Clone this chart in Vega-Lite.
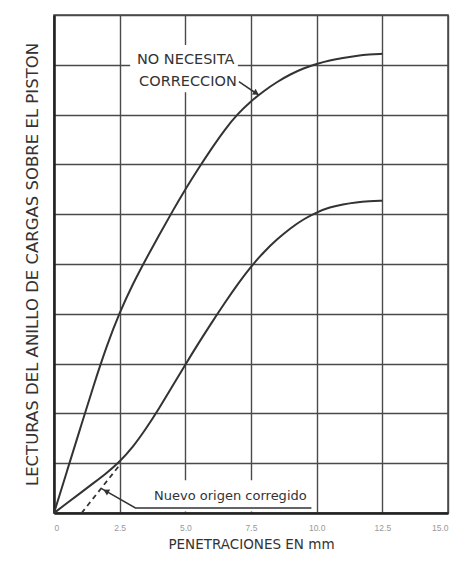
{
  "$schema": "https://vega.github.io/schema/vega-lite/v6.json",
  "width": 394,
  "height": 498,
  "padding": {"left": 24, "top": 15, "right": 20, "bottom": 10},
  "background": "white",
  "config": {
    "view": {"stroke": "#444", "strokeWidth": 1.5},
    "font": "Liberation Sans"
  },
  "datasets": {
    "curves": [
      {"serie": "A", "x": 0, "y": 0}, {"serie": "A", "x": 0.5, "y": 0.85}, {"serie": "A", "x": 1, "y": 1.7},
      {"serie": "A", "x": 1.5, "y": 2.55}, {"serie": "A", "x": 2, "y": 3.35}, {"serie": "A", "x": 2.5, "y": 4.03},
      {"serie": "A", "x": 3, "y": 4.6}, {"serie": "A", "x": 3.5, "y": 5.1}, {"serie": "A", "x": 4, "y": 5.58},
      {"serie": "A", "x": 4.5, "y": 6.05}, {"serie": "A", "x": 5, "y": 6.5}, {"serie": "A", "x": 5.5, "y": 6.92},
      {"serie": "A", "x": 6, "y": 7.32}, {"serie": "A", "x": 6.5, "y": 7.7}, {"serie": "A", "x": 7, "y": 8.02},
      {"serie": "A", "x": 7.5, "y": 8.27}, {"serie": "A", "x": 8, "y": 8.48}, {"serie": "A", "x": 8.5, "y": 8.66},
      {"serie": "A", "x": 9, "y": 8.81}, {"serie": "A", "x": 9.5, "y": 8.93}, {"serie": "A", "x": 10, "y": 9.02},
      {"serie": "A", "x": 10.5, "y": 9.09}, {"serie": "A", "x": 11, "y": 9.14}, {"serie": "A", "x": 11.5, "y": 9.18},
      {"serie": "A", "x": 12, "y": 9.21}, {"serie": "A", "x": 12.5, "y": 9.22},
      {"serie": "B", "x": 0, "y": 0}, {"serie": "B", "x": 0.5, "y": 0.2}, {"serie": "B", "x": 1, "y": 0.4},
      {"serie": "B", "x": 1.5, "y": 0.6}, {"serie": "B", "x": 2, "y": 0.8}, {"serie": "B", "x": 2.5, "y": 1.03},
      {"serie": "B", "x": 3, "y": 1.32}, {"serie": "B", "x": 3.5, "y": 1.69}, {"serie": "B", "x": 4, "y": 2.1},
      {"serie": "B", "x": 4.5, "y": 2.54}, {"serie": "B", "x": 5, "y": 2.98}, {"serie": "B", "x": 5.5, "y": 3.41},
      {"serie": "B", "x": 6, "y": 3.82}, {"serie": "B", "x": 6.5, "y": 4.22}, {"serie": "B", "x": 7, "y": 4.6},
      {"serie": "B", "x": 7.5, "y": 4.95}, {"serie": "B", "x": 8, "y": 5.25}, {"serie": "B", "x": 8.5, "y": 5.5},
      {"serie": "B", "x": 9, "y": 5.72}, {"serie": "B", "x": 9.5, "y": 5.9}, {"serie": "B", "x": 10, "y": 6.04},
      {"serie": "B", "x": 10.5, "y": 6.14}, {"serie": "B", "x": 11, "y": 6.2}, {"serie": "B", "x": 11.5, "y": 6.24},
      {"serie": "B", "x": 12, "y": 6.26}, {"serie": "B", "x": 12.5, "y": 6.27}
    ],
    "dashed": [
      {"x": 1.05, "y": 0}, {"x": 2.45, "y": 0.93}
    ],
    "leaders": [
      {"grp": "L1", "ord": 1, "x": 7.04, "y": 8.66}, {"grp": "L1", "ord": 2, "x": 7.8, "y": 8.39},
      {"grp": "L2", "ord": 1, "x": 9.8, "y": 0.1}, {"grp": "L2", "ord": 2, "x": 3.1, "y": 0.1},
      {"grp": "L2", "ord": 3, "x": 1.78, "y": 0.5}
    ],
    "head1": [{"x": 7.7, "y": 8.43}],
    "head2": [{"x": 1.98, "y": 0.44}],
    "masks": [
      {"x": 2.9, "x2": 7.0, "y": 8.45, "y2": 9.4},
      {"x": 3.5, "x2": 9.75, "y": 0.03, "y2": 0.66}
    ],
    "labels": [
      {"x": 3.16, "y": 9.1, "text": "NO NECESITA"},
      {"x": 3.24, "y": 8.65, "text": "CORRECCION"}
    ],
    "labels2": [
      {"x": 3.81, "y": 0.34, "text": "Nuevo origen corregido"}
    ]
  },
  "layer": [
    {
      "data": {"name": "masks"},
      "mark": {"type": "rect", "fill": "white"},
      "encoding": {
        "x": {"field": "x", "type": "quantitative",
          "scale": {"domain": [0, 15], "nice": false},
          "axis": {
            "values": [0, 2.5, 5, 7.5, 10, 12.5, 15],
            "grid": true, "gridColor": "#4a4a4a", "gridWidth": 1.4, "gridOpacity": 1,
            "ticks": false,
            "domain": true, "domainColor": "#222", "domainWidth": 2.5,
            "labelExpr": "datum.value == 0 ? '0' : format(datum.value, '.1f')",
            "labelColor": "#999", "labelFontSize": 8.5, "labelPadding": 10,
            "title": "PENETRACIONES EN mm",
            "titleFontSize": 13.5, "titleFontWeight": "normal", "titleColor": "#333",
            "titlePadding": 6, "titleFont": "DejaVu Sans"
          }
        },
        "x2": {"field": "x2"},
        "y": {"field": "y", "type": "quantitative",
          "scale": {"domain": [0, 10], "nice": false},
          "axis": {
            "values": [0, 1, 2, 3, 4, 5, 6, 7, 8, 9, 10],
            "grid": true, "gridColor": "#4a4a4a", "gridWidth": 1.4, "gridOpacity": 1,
            "ticks": false, "labels": false,
            "domain": true, "domainColor": "#222", "domainWidth": 2.5,
            "title": "LECTURAS DEL ANILLO DE CARGAS SOBRE EL PISTON",
            "titleFontSize": 16.5, "titleFontWeight": "normal", "titleColor": "#333",
            "titlePadding": 14, "titleFont": "DejaVu Sans"
          }
        },
        "y2": {"field": "y2"}
      }
    },
    {
      "data": {"name": "curves"},
      "mark": {"type": "line", "interpolate": "basis", "color": "#333", "strokeWidth": 2},
      "encoding": {
        "x": {"field": "x", "type": "quantitative"},
        "y": {"field": "y", "type": "quantitative"},
        "detail": {"field": "serie"}
      }
    },
    {
      "data": {"name": "dashed"},
      "mark": {"type": "line", "color": "#333", "strokeWidth": 1.8, "strokeDash": [5, 4]},
      "encoding": {
        "x": {"field": "x", "type": "quantitative"},
        "y": {"field": "y", "type": "quantitative"}
      }
    },
    {
      "data": {"name": "leaders"},
      "mark": {"type": "line", "color": "#333", "strokeWidth": 1.5},
      "encoding": {
        "x": {"field": "x", "type": "quantitative"},
        "y": {"field": "y", "type": "quantitative"},
        "detail": {"field": "grp"},
        "order": {"field": "ord"}
      }
    },
    {
      "data": {"name": "head1"},
      "mark": {"type": "point", "shape": "triangle-right", "filled": true, "color": "#333", "size": 45, "angle": 33, "opacity": 1},
      "encoding": {
        "x": {"field": "x", "type": "quantitative"},
        "y": {"field": "y", "type": "quantitative"}
      }
    },
    {
      "data": {"name": "head2"},
      "mark": {"type": "point", "shape": "triangle-left", "filled": true, "color": "#333", "size": 45, "angle": 28, "opacity": 1},
      "encoding": {
        "x": {"field": "x", "type": "quantitative"},
        "y": {"field": "y", "type": "quantitative"}
      }
    },
    {
      "data": {"name": "labels"},
      "mark": {"type": "text", "align": "left", "baseline": "middle", "fontSize": 14.5, "color": "#333", "font": "DejaVu Sans"},
      "encoding": {
        "x": {"field": "x", "type": "quantitative"},
        "y": {"field": "y", "type": "quantitative"},
        "text": {"field": "text"}
      }
    },
    {
      "data": {"name": "labels2"},
      "mark": {"type": "text", "align": "left", "baseline": "middle", "fontSize": 13, "color": "#333", "font": "DejaVu Sans"},
      "encoding": {
        "x": {"field": "x", "type": "quantitative"},
        "y": {"field": "y", "type": "quantitative"},
        "text": {"field": "text"}
      }
    }
  ]
}
